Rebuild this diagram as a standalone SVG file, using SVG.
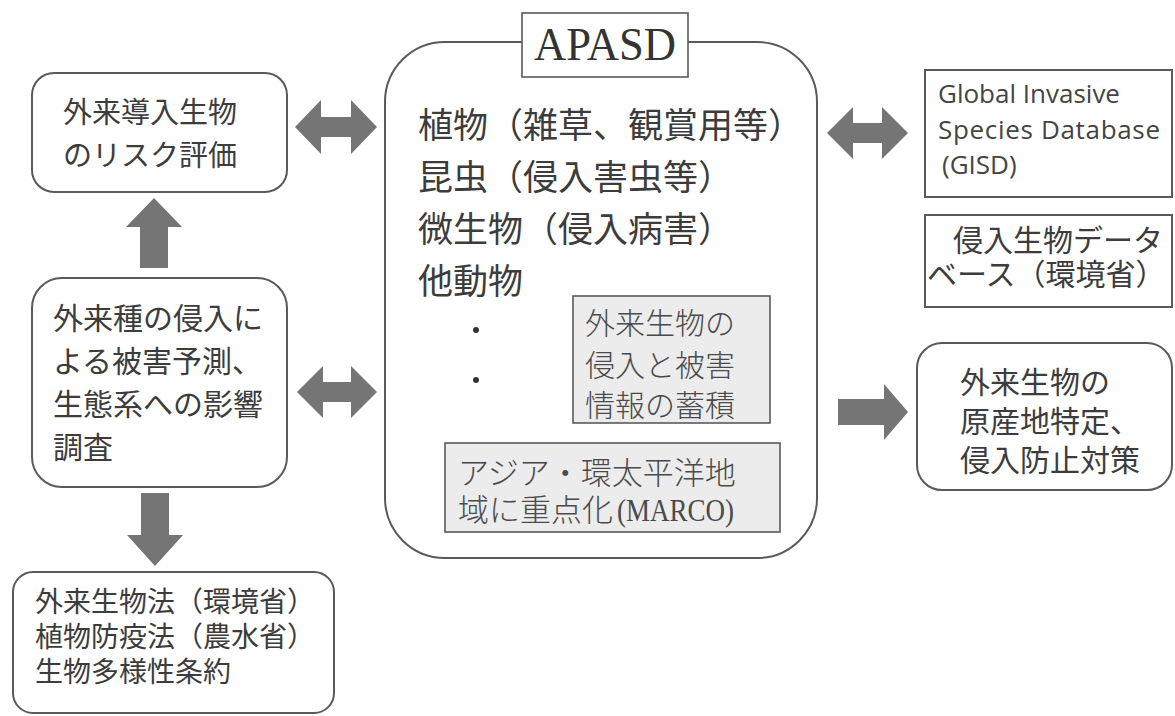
<svg xmlns="http://www.w3.org/2000/svg" width="1175" height="716" viewBox="0 0 1175 716">
<style>
.box{fill:#fff;stroke:#5a5a5a;stroke-width:2}
.gbox{fill:#ececec;stroke:#5a5a5a;stroke-width:1.6}
.jp{font-family:"Noto Sans CJK JP","Noto Sans CJK SC",sans-serif;fill:#3c3c3c}
.jpl{font-family:"Noto Sans CJK JP","Noto Sans CJK SC",sans-serif;fill:#4a4a4a;font-weight:300}
.en{font-family:"Open Sans","Liberation Sans",sans-serif;fill:#444}
.arr{fill:#757575}
</style>
<rect width="1175" height="716" fill="#fff"/>

<g id="apasd">
<rect class="box" x="385" y="42" width="432" height="516" rx="60"/>
<rect x="522" y="13" width="166" height="64" fill="#fff" stroke="#5a5a5a" stroke-width="1.6"/>
<text x="605" y="60" text-anchor="middle" font-family="Liberation Serif,serif" font-size="46" fill="#333" textLength="142" lengthAdjust="spacingAndGlyphs">APASD</text>
<text class="jp" font-size="35" x="418" y="138">植物（雑草、観賞用等）</text>
<text class="jp" font-size="35" x="418" y="190">昆虫（侵入害虫等）</text>
<text class="jp" font-size="35" x="418" y="242">微生物（侵入病害）</text>
<text class="jp" font-size="35" x="418" y="294">他動物</text>
<circle cx="476" cy="330" r="3" fill="#333"/>
<circle cx="476" cy="380" r="3" fill="#333"/>
</g>

<g id="accum">
<rect class="gbox" x="573" y="296" width="197" height="127"/>
<text class="jpl" font-size="30" x="585" y="334">外来生物の</text>
<text class="jpl" font-size="30" x="585" y="376">侵入と被害</text>
<text class="jpl" font-size="30" x="585" y="416">情報の蓄積</text>
</g>

<g id="marco">
<rect class="gbox" x="445" y="443" width="335" height="89"/>
<text class="jpl" font-size="31" x="458" y="484">アジア・環太平洋地</text>
<text class="jpl" font-size="31" x="458" y="521">域に重点化<tspan x="617" font-family="Liberation Serif,serif" font-weight="400" textLength="117" lengthAdjust="spacingAndGlyphs">(MARCO)</tspan></text>
</g>

<g id="risk">
<rect class="box" x="32" y="73" width="255" height="119" rx="22"/>
<text class="jp" font-size="29" x="63" y="123">外来導入生物</text>
<text class="jp" font-size="29" x="63" y="166">のリスク評価</text>
</g>

<g id="predict">
<rect class="box" x="32" y="278" width="255" height="209" rx="30"/>
<text class="jp" font-size="30" x="53" y="329">外来種の侵入に</text>
<text class="jp" font-size="30" x="53" y="372">よる被害予測、</text>
<text class="jp" font-size="30" x="53" y="415">生態系への影響</text>
<text class="jp" font-size="30" x="53" y="458">調査</text>
</g>

<g id="laws">
<rect class="box" x="13" y="572" width="321" height="141" rx="20"/>
<text class="jp" font-size="28" x="35" y="612">外来生物法（環境省）</text>
<text class="jp" font-size="28" x="35" y="647">植物防疫法（農水省）</text>
<text class="jp" font-size="28" x="35" y="682">生物多様性条約</text>
</g>

<g id="gisd">
<rect class="box" x="925" y="70" width="247" height="127"/>
<text class="en" font-size="26" x="938" y="103">Global Invasive</text>
<text class="en" font-size="26" x="938" y="139" textLength="222" lengthAdjust="spacing">Species Database</text>
<text class="en" font-size="26" x="942" y="174">(GISD)</text>
</g>

<g id="jdb">
<rect class="box" x="925" y="215" width="247" height="92"/>
<text class="jp" font-size="30" x="953" y="251">侵入生物データ</text>
<text class="jp" font-size="30" x="927" y="285">ベース（環境省）</text>
</g>

<g id="origin">
<rect class="box" x="917" y="343" width="255" height="147" rx="25"/>
<text class="jp" font-size="30" x="960" y="393">外来生物の</text>
<text class="jp" font-size="30" x="960" y="432">原産地特定、</text>
<text class="jp" font-size="30" x="960" y="471">侵入防止対策</text>
</g>

<g id="connectors">
<path class="arr" d="M295,127 L321,100 L321,117 L351,117 L351,100 L377,127 L351,154 L351,137 L321,137 L321,154 Z"/>
<path class="arr" d="M827,133 L853,107 L853,123 L882,123 L882,107 L908,133 L882,159 L882,143 L853,143 L853,159 Z"/>
<path class="arr" d="M297,392 L323,366 L323,382 L351,382 L351,366 L377,392 L351,418 L351,402 L323,402 L323,418 Z"/>
<path class="arr" d="M154,198 L182,227 L168,227 L168,268 L140,268 L140,227 L126,227 Z"/>
<path class="arr" d="M141,493 L169,493 L169,535 L183,535 L155,566 L127,535 L141,535 Z"/>
<path class="arr" d="M838,399 L884,399 L884,384 L908,412 L884,440 L884,425 L838,425 Z"/>
</g>
</svg>
